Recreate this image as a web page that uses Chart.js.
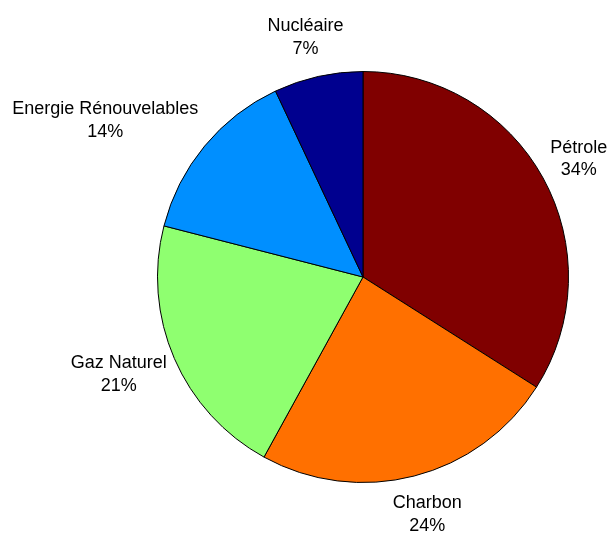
<!DOCTYPE html>
<html lang="fr">
<head>
    <meta charset="UTF-8">
    <title>Sources d'énergie</title>
    <script src="https://cdn.jsdelivr.net/npm/chart.js"></script>
    <style>
        body {
            margin: 0;
            background: #fff;
        }
        #wrap {
            width: 608px;
            height: 533px;
        }
    </style>
</head>
<body>
    <div id="wrap">
        <canvas id="pieChart" width="608" height="533"></canvas>
    </div>

    <script>
        // data (percent)
        const sources = ['Pétrole', 'Charbon', 'Gaz Naturel', 'Energie Rénouvelables', 'Nucléaire'];
        const shares = [34, 24, 21, 14, 7];
        const sliceColors = ['#800000', '#FF7000', '#8FFF70', '#008FFF', '#00008F'];

        // labels outside the pie: name on one line, percent below
        const outsideLabels = {
            id: 'outsideLabels',
            afterDatasetsDraw(chart) {
                const ctx = chart.ctx;
                const meta = chart.getDatasetMeta(0);
                const lineH = 22.5;
                ctx.save();
                ctx.font = '18px "Liberation Sans", Arial, sans-serif';
                ctx.fillStyle = '#000';
                ctx.textAlign = 'center';
                ctx.textBaseline = 'middle';
                meta.data.forEach((arc, i) => {
                    const p = arc.getProps(['x', 'y', 'startAngle', 'endAngle', 'outerRadius'], true);
                    const mid = (p.startAngle + p.endAngle) / 2;
                    const dx = Math.cos(mid);
                    const dy = Math.sin(mid);
                    const lines = [sources[i], shares[i] + '%'];
                    const w = Math.max(...lines.map(t => ctx.measureText(t).width));
                    const h = lines.length * lineH;
                    const R = p.outerRadius * 1.04;
                    const cx = p.x + dx * R + Math.sign(dx) * (w / 2) * Math.min(1, Math.abs(dx) * 1.3);
                    const cy = p.y + dy * (R + h * 0.7);
                    lines.forEach((t, k) => {
                        ctx.fillText(t, cx, cy + (k - (lines.length - 1) / 2) * lineH);
                    });
                });
                ctx.restore();
            }
        };

        new Chart(document.getElementById('pieChart'), {
            type: 'pie',
            data: {
                labels: sources,
                datasets: [{
                    data: shares,
                    backgroundColor: sliceColors,
                    borderColor: '#000',
                    borderWidth: 1
                }]
            },
            options: {
                responsive: false,
                animation: false,
                events: [],
                layout: {
                    padding: { left: 157, right: 39, top: 71, bottom: 50 }
                },
                plugins: {
                    legend: { display: false },
                    tooltip: { enabled: false }
                }
            },
            plugins: [outsideLabels]
        });
    </script>
</body>
</html>
